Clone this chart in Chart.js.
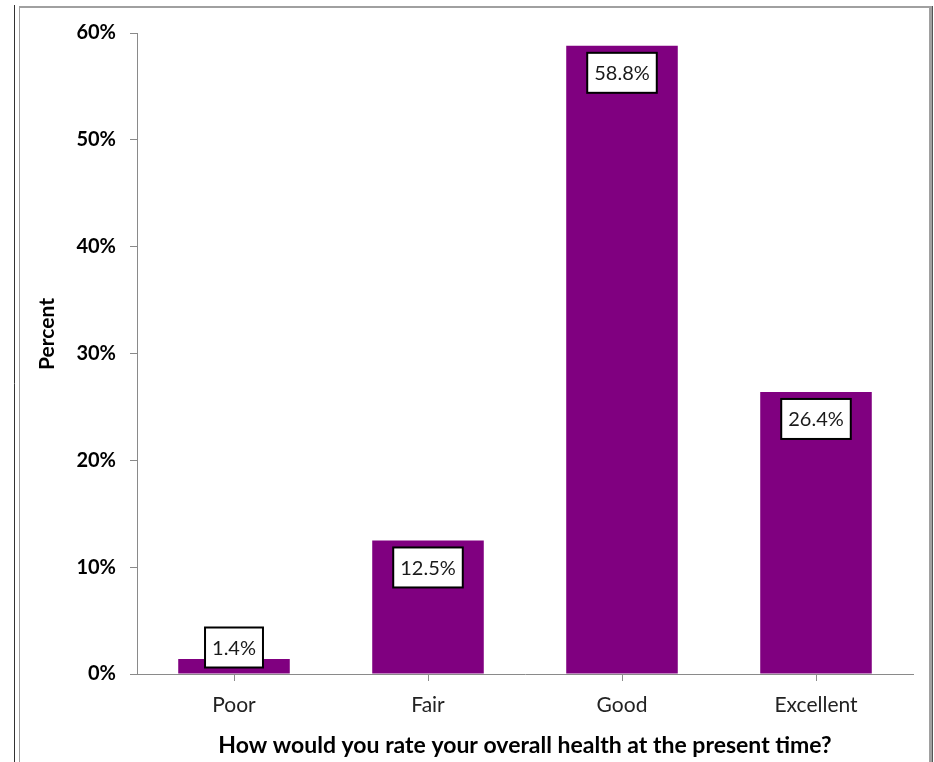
<!DOCTYPE html>
<html>
<head>
<meta charset="utf-8">
<script src="https://cdn.jsdelivr.net/npm/chart.js@4.4.1/dist/chart.umd.min.js"></script>
<style>
  body { margin: 0; background: #fff; }
  canvas { display: block; }
</style>
</head>
<body>
<canvas id="myChart" width="934" height="762"></canvas>
<script>
const categories = ['Poor', 'Fair', 'Good', 'Excellent'];
const percents = [1.4, 12.5, 58.8, 26.4];
const yTicks = [0, 10, 20, 30, 40, 50, 60];

const FONT = 'Lato, "Open Sans", sans-serif';
const axisGray = '#8a8a8a';

// outer frame like the pasted picture
const framePlugin = {
  id: 'frame',
  beforeDraw(chart) {
    const c = chart.ctx;
    c.save();
    c.fillStyle = '#fff';
    c.fillRect(0, 0, chart.width, chart.height);
    c.strokeStyle = '#333';
    c.lineWidth = 1;
    c.beginPath(); c.moveTo(14.5, 5); c.lineTo(14.5, 762); c.stroke();
    c.strokeStyle = '#a0a0a0';
    c.beginPath(); c.moveTo(19.5, 6); c.lineTo(19.5, 762); c.stroke();
    c.lineWidth = 2;
    c.beginPath(); c.moveTo(19, 7); c.lineTo(930, 7); c.stroke();
    c.lineWidth = 3;
    c.beginPath(); c.moveTo(930.5, 6); c.lineTo(930.5, 762); c.stroke();
    c.strokeStyle = '#555'; c.lineWidth = 1;
    c.beginPath(); c.moveTo(932.5, 6); c.lineTo(932.5, 762); c.stroke();

    // y axis title
    c.translate(47, 334);
    c.rotate(-Math.PI / 2);
    c.fillStyle = '#000';
    c.font = 'bold 21px ' + FONT;
    c.textAlign = 'center';
    c.textBaseline = 'middle';
    c.fillText('Percent', 0, 0);
    c.restore();
  }
};

// boxed value labels inside the bar tops
const boxLabels = {
  id: 'boxLabels',
  afterDatasetsDraw(chart) {
    const c = chart.ctx;
    const meta = chart.getDatasetMeta(0);
    c.save();
    c.font = '20px ' + FONT;
    c.textAlign = 'center';
    c.textBaseline = 'middle';
    meta.data.forEach(function(bar, i) {
      const txt = percents[i].toFixed(1) + '%';
      const w = c.measureText(txt).width + 14;
      const h = 40;
      let cy = Math.min(bar.y + 27, bar.base - 26);
      c.fillStyle = '#fff';
      c.fillRect(bar.x - w / 2, cy - h / 2, w, h);
      c.strokeStyle = '#000';
      c.lineWidth = 2;
      c.strokeRect(bar.x - w / 2, cy - h / 2, w, h);
      c.fillStyle = '#1a1a1a';
      c.fillText(txt, bar.x, cy + 1);
    });
    c.restore();
  }
};

const ctx = document.getElementById('myChart').getContext('2d');
const myChart = new Chart(ctx, {
  type: 'bar',
  data: {
    labels: categories,
    datasets: [{
      data: percents,
      backgroundColor: '#800080',
      borderWidth: 0,
      barPercentage: 0.575,
      categoryPercentage: 1
    }]
  },
  options: {
    responsive: false,
    animation: false,
    layout: { padding: { top: 33, right: 21, bottom: 0, left: 0 } },
    plugins: {
      legend: { display: false },
      tooltip: { enabled: false }
    },
    scales: {
      x: {
        afterFit(scale) { scale.height = 88; },
        grid: {
          offset: false,
          drawOnChartArea: false,
          tickLength: 7,
          color: axisGray
        },
        border: { color: axisGray, width: 1 },
        ticks: {
          color: '#222',
          padding: 12,
          font: { family: FONT, size: 21 }
        },
        title: {
          display: true,
          text: 'How would you rate your overall health at the present time?',
          color: '#000',
          font: { family: FONT, size: 23, weight: 'bold' },
          padding: { top: 0, bottom: 3 }
        }
      },
      y: {
        min: 0,
        max: 60,
        afterFit(scale) { scale.width = 137; },
        afterBuildTicks(scale) { scale.ticks = yTicks.map(v => ({ value: v })); },
        grid: {
          drawOnChartArea: false,
          tickLength: 7,
          color: axisGray
        },
        border: { color: axisGray, width: 1 },
        ticks: {
          color: '#000',
          padding: 14,
          font: { family: FONT, size: 20, weight: 'bold' },
          callback: v => v + '%'
        }
      }
    }
  },
  plugins: [framePlugin, boxLabels]
});
</script>
</body>
</html>
